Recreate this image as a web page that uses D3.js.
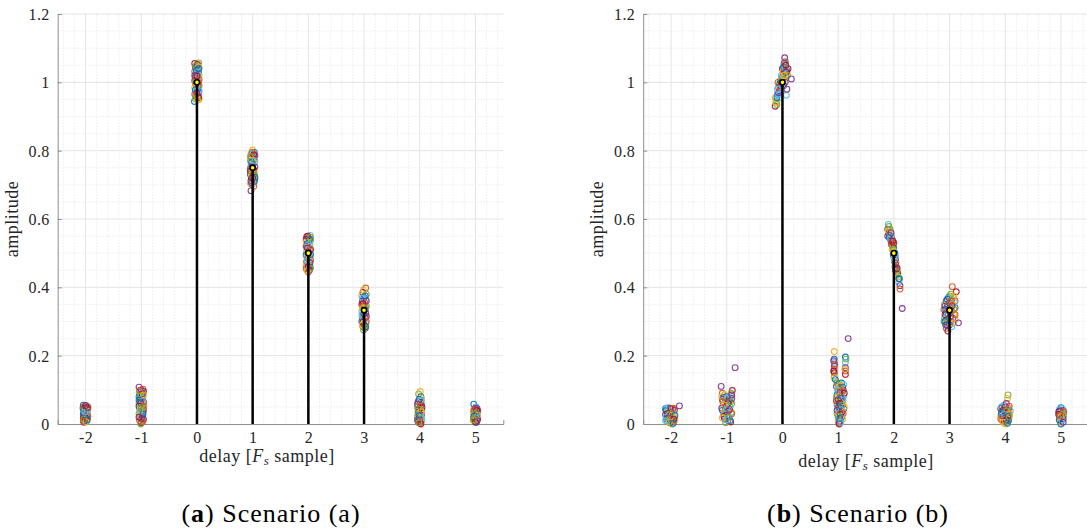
<!DOCTYPE html>
<html>
<head>
<meta charset="utf-8">
<script src="https://cdn.jsdelivr.net/npm/d3@7"></script>
<style>
  html, body { margin: 0; padding: 0; background: #fff; }
  svg { display: block; }
</style>
</head>
<body>
<svg id="chart" width="1087" height="531"></svg>
<script>
// ---------------- data ----------------
const delays = [-2, -1, 0, 1, 2, 3, 4, 5];
const xTickLabels = ["-2", "-1", "0", "1", "2", "3", "4", "5"];
const yTicks = [0, 0.2, 0.4, 0.6, 0.8, 1, 1.2];
const yTickLabels = ["0", "0.2", "0.4", "0.6", "0.8", "1", "1.2"];
const trueDelaysA = [0, 1, 2, 3];
const trueAmpsA = [1, 0.75, 0.5, 0.333];
const trueDelaysB = [0, 2, 3];
const trueAmpsB = [1, 0.5, 0.333];
const captions = [["a", "Scenario (a)"], ["b", "Scenario (b)"]];

// Scenario (a): estimated taps, [offset from delay, amplitude]
const estA_m2 = [[-0.04,0.055],[0.03,0.052],[-0.02,0.045],[0.04,0.042],[0.0,0.04],[-0.04,0.036],[0.02,0.034],[-0.01,0.03],[0.04,0.028],[-0.03,0.025],[0.01,0.022],[-0.04,0.018],[0.03,0.016],[0.0,0.012],[-0.02,0.01],[0.02,0.008],[-0.03,0.005],[0.01,0.038],[0.03,0.02],[-0.01,0.015],[0.045,0.05],[-0.045,0.046],[0.0,0.026],[0.02,0.044],
  [-0.03,0.05],[0.01,0.048],[-0.01,0.042],[0.03,0.038],[-0.04,0.028],[0.02,0.03],[-0.02,0.02],[0.04,0.022],[0.0,0.018],[-0.03,0.014],[0.01,0.006],[0.03,0.012],[-0.01,0.035],[0.04,0.048],[-0.04,0.008],[0.0,0.054]];
const estA_m1 = [[-0.04,0.108],[0.03,0.102],[0.04,0.095],[-0.03,0.09],[0.0,0.086],[-0.04,0.08],[0.03,0.078],[0.01,0.072],[-0.02,0.068],[0.04,0.064],[-0.04,0.06],[0.0,0.056],[0.02,0.05],[-0.03,0.046],[0.04,0.042],[-0.01,0.038],[0.03,0.034],[-0.04,0.03],[0.0,0.026],[0.02,0.022],[-0.02,0.018],[0.04,0.014],[-0.03,0.01],[0.0,0.004],[-0.01,0.0],[0.03,0.06],[-0.02,0.075],[0.01,0.092],
  [0.0,0.1],[-0.03,0.098],[0.02,0.088],[-0.01,0.082],[0.04,0.085],[-0.04,0.07],[0.02,0.066],[-0.01,0.062],[0.04,0.052],[-0.04,0.052],[0.01,0.044],[-0.02,0.04],[0.03,0.028],[-0.03,0.036],[0.01,0.016],[0.03,0.008],[-0.04,0.02],[0.0,0.048]];
const estA_0 = [[-0.04,1.055],[0.03,1.057],[0.0,1.05],[-0.03,1.045],[0.04,1.042],[0.01,1.038],[-0.04,1.032],[0.03,1.028],[-0.01,1.024],[0.04,1.02],[-0.03,1.015],[0.02,1.01],[-0.04,1.005],[0.03,1.0],[-0.02,0.995],[0.04,0.99],[-0.04,0.985],[0.01,0.98],[-0.02,0.975],[0.03,0.97],[-0.04,0.965],[0.02,0.96],[-0.01,0.955],[0.04,0.95],[-0.045,0.944],[0.0,1.03],[0.02,0.992],[-0.03,1.012],
  [0.01,1.052],[-0.02,1.048],[0.03,1.045],[-0.01,1.035],[0.02,1.03],[-0.04,1.02],[0.04,1.008],[0.0,1.018],[-0.03,1.0],[0.0,0.99],[-0.03,0.978],[0.04,0.975],[0.0,0.968],[-0.02,0.962],[0.03,0.955],[-0.03,0.952],[0.01,0.948],[0.03,1.04]];
const estA_1 = [[0.0,0.802],[0.03,0.795],[-0.03,0.79],[0.04,0.785],[-0.02,0.78],[0.02,0.775],[-0.04,0.77],[0.03,0.765],[0.0,0.76],[-0.03,0.756],[0.04,0.752],[-0.04,0.748],[0.02,0.744],[-0.02,0.74],[0.03,0.735],[-0.04,0.73],[0.01,0.726],[-0.02,0.72],[0.04,0.716],[-0.03,0.712],[0.02,0.708],[-0.04,0.704],[0.03,0.71],[-0.01,0.7],[-0.03,0.683],
  [-0.01,0.795],[0.02,0.788],[-0.04,0.782],[0.0,0.772],[-0.02,0.766],[0.04,0.77],[-0.01,0.752],[0.01,0.738],[-0.04,0.74],[0.03,0.728],[-0.02,0.73],[0.04,0.722],[0.0,0.715],[-0.02,0.706],[0.02,0.696],[0.0,0.72]];
const estA_2 = [[0.03,0.552],[-0.03,0.548],[0.0,0.545],[-0.04,0.54],[0.04,0.538],[0.01,0.533],[-0.02,0.528],[0.03,0.524],[-0.04,0.52],[0.0,0.515],[0.04,0.51],[-0.03,0.505],[0.02,0.5],[-0.04,0.495],[0.03,0.49],[-0.01,0.485],[0.04,0.48],[-0.03,0.475],[0.01,0.47],[-0.04,0.465],[0.03,0.46],[-0.02,0.455],[0.02,0.45],[0.0,0.445],
  [-0.01,0.55],[0.04,0.546],[-0.04,0.532],[0.02,0.54],[0.0,0.525],[-0.02,0.515],[0.03,0.512],[0.0,0.503],[-0.03,0.49],[0.01,0.492],[0.04,0.496],[-0.02,0.478],[0.03,0.472],[-0.04,0.455],[0.0,0.46],[0.04,0.456],[-0.02,0.448]];
const estA_3 = [[0.03,0.398],[-0.02,0.385],[0.04,0.38],[-0.04,0.375],[0.0,0.37],[0.03,0.365],[-0.03,0.36],[0.01,0.355],[-0.04,0.35],[0.04,0.345],[-0.01,0.34],[0.02,0.335],[-0.04,0.33],[0.03,0.325],[-0.02,0.32],[0.04,0.315],[-0.03,0.31],[0.01,0.305],[-0.04,0.3],[0.03,0.295],[0.0,0.29],[-0.02,0.285],[0.02,0.28],[-0.01,0.275],
  [-0.01,0.392],[0.02,0.375],[-0.03,0.368],[0.04,0.36],[0.0,0.348],[-0.02,0.352],[0.03,0.34],[-0.03,0.338],[0.0,0.322],[-0.04,0.318],[0.02,0.312],[0.04,0.3],[-0.02,0.298],[0.01,0.282],[-0.03,0.29],[0.03,0.285]];
const estA_4 = [[-0.02,0.088],[0.01,0.095],[0.02,0.08],[0.03,0.07],[-0.03,0.065],[0.0,0.06],[0.03,0.055],[-0.04,0.05],[0.01,0.046],[-0.02,0.042],[0.04,0.038],[-0.03,0.034],[0.0,0.03],[0.03,0.026],[-0.04,0.022],[0.02,0.018],[-0.01,0.014],[0.04,0.01],[-0.03,0.006],[0.0,0.002],[0.02,0.062],[-0.02,0.028],
  [0.03,0.075],[-0.01,0.072],[0.02,0.068],[-0.04,0.058],[0.01,0.052],[0.04,0.048],[-0.03,0.044],[0.02,0.036],[-0.01,0.024],[0.03,0.018],[-0.04,0.012],[0.01,0.008],[0.02,0.0],[-0.02,0.004]];
const estA_5 = [[-0.03,0.058],[0.01,0.05],[0.03,0.045],[-0.02,0.042],[0.04,0.038],[0.0,0.035],[-0.04,0.032],[0.03,0.028],[-0.01,0.025],[0.02,0.022],[-0.03,0.018],[0.04,0.015],[0.0,0.012],[-0.02,0.009],[0.02,0.005],[0.03,0.032],
  [0.0,0.046],[-0.03,0.04],[0.02,0.04],[-0.01,0.03],[0.04,0.025],[-0.03,0.022],[0.01,0.018],[0.03,0.01],[-0.02,0.015],[0.0,0.005],[-0.04,0.012]];

// Scenario (b)
const estB_m2 = [[-0.1,0.045],[-0.06,0.048],[-0.02,0.046],[0.03,0.044],[0.06,0.04],[-0.08,0.038],[-0.04,0.035],[0.0,0.033],[0.04,0.03],[-0.1,0.028],[-0.06,0.025],[-0.02,0.022],[0.02,0.02],[0.06,0.018],[-0.08,0.015],[-0.04,0.012],[0.0,0.01],[0.04,0.008],[-0.02,0.004],[0.02,0.0],[0.07,0.012],
  [-0.09,0.04],[-0.05,0.042],[0.0,0.044],[0.04,0.046],[-0.07,0.03],[-0.03,0.028],[0.02,0.026],[0.07,0.025],[-0.09,0.02],[-0.05,0.018],[0.0,0.015],[0.05,0.014],[-0.07,0.008],[-0.03,0.006],[0.04,0.002],[-0.1,0.01]];
const estB_m1 = [[-0.1,0.11],[-0.08,0.09],[0.1,0.098],[0.08,0.09],[-0.04,0.085],[0.0,0.08],[0.06,0.078],[-0.08,0.072],[-0.02,0.07],[0.04,0.066],[0.09,0.06],[-0.06,0.058],[0.0,0.055],[0.06,0.05],[-0.09,0.046],[-0.03,0.042],[0.03,0.038],[0.08,0.034],[-0.06,0.03],[0.0,0.025],[0.05,0.02],[-0.04,0.015],[0.02,0.01],[0.07,0.006],[-0.02,0.004],
  [-0.09,0.08],[-0.05,0.078],[0.02,0.075],[0.09,0.085],[-0.07,0.065],[0.02,0.06],[0.07,0.065],[-0.04,0.055],[-0.08,0.04],[0.0,0.045],[0.05,0.042],[0.09,0.03],[-0.05,0.022],[0.03,0.018],[-0.08,0.018],[0.06,0.01],[-0.01,0.012],[0.09,0.075]];
const estB_0 = [[-0.13,0.93],[-0.11,0.945],[-0.13,0.955],[-0.09,0.965],[-0.06,0.955],[-0.05,0.975],[-0.07,0.985],[-0.03,0.99],[-0.04,1.005],[-0.01,1.0],[0.0,1.015],[-0.02,1.02],[0.02,1.025],[0.03,1.035],[0.0,1.04],[0.04,1.045],[0.05,1.05],[0.03,1.055],[0.06,1.06],[0.04,1.072],[0.07,1.04],[0.08,1.03],[0.06,1.02],[0.04,1.005],[0.02,0.99],[0.07,0.962],[0.08,0.98],[-0.08,1.0],[0.1,1.04],[-0.1,0.935],
  [-0.12,0.94],[-0.1,0.955],[-0.08,0.965],[-0.07,0.97],[-0.04,0.985],[-0.02,1.0],[0.01,1.008],[0.01,1.03],[0.02,1.045],[0.05,1.04],[0.06,1.03],[0.04,1.06],[0.06,1.05],[0.09,1.02],[0.03,1.02],[-0.05,0.995],[-0.09,0.98],[0.05,1.0]];
const estB_1 = [[-0.07,0.212],[-0.07,0.19],[-0.07,0.18],[-0.07,0.17],[-0.07,0.16],[-0.07,0.15],[-0.07,0.14],[-0.07,0.135],[0.13,0.196],[0.13,0.18],[0.13,0.165],[0.13,0.155],[0.13,0.145],[-0.02,0.12],[0.02,0.118],[0.06,0.12],[0.1,0.115],[-0.03,0.11],[0.04,0.105],[0.09,0.1],[0.0,0.095],[0.06,0.09],[-0.02,0.085],[0.1,0.082],[0.03,0.078],[0.07,0.07],[-0.03,0.068],[0.01,0.062],[0.09,0.058],[0.05,0.052],[-0.01,0.048],[0.1,0.044],[0.03,0.04],[0.07,0.035],[-0.02,0.03],[0.02,0.024],[0.06,0.02],[0.0,0.014],[0.03,0.008],[0.01,0.003],[0.02,0.0],
  [0.0,0.115],[0.04,0.112],[0.08,0.108],[-0.01,0.1],[0.03,0.092],[0.07,0.095],[0.11,0.09],[-0.03,0.078],[0.01,0.08],[0.05,0.075],[0.09,0.07],[0.0,0.07],[-0.02,0.058],[0.03,0.06],[0.07,0.055],[0.11,0.05],[0.01,0.05],[0.06,0.042],[-0.02,0.04],[0.09,0.03],[0.04,0.028],[0.0,0.022],[0.08,0.015],[0.03,0.016],[0.05,0.005],
  [-0.08,0.185],[-0.06,0.175],[-0.08,0.155],[0.14,0.19],[0.12,0.16],[-0.05,0.13]];
const estB_2 = [[-0.1,0.584],[-0.11,0.57],[-0.09,0.56],[-0.11,0.55],[-0.07,0.57],[-0.06,0.555],[-0.08,0.545],[-0.04,0.55],[-0.05,0.535],[-0.03,0.54],[-0.04,0.525],[-0.02,0.52],[-0.03,0.51],[0.0,0.515],[0.01,0.5],[-0.01,0.495],[0.02,0.49],[0.03,0.48],[0.01,0.475],[0.04,0.47],[0.02,0.46],[0.05,0.455],[0.03,0.45],[0.06,0.445],[0.07,0.44],[0.05,0.435],[0.08,0.43],[0.1,0.425],[0.09,0.415],[0.11,0.405],[0.11,0.395],[0.0,0.53],
  [-0.09,0.578],[-0.1,0.565],[-0.08,0.552],[-0.06,0.545],[-0.05,0.56],[-0.03,0.53],[-0.02,0.535],[-0.01,0.51],[0.0,0.505],[0.02,0.5],[0.0,0.485],[0.03,0.47],[0.04,0.46],[0.06,0.455],[0.05,0.445],[0.07,0.43],[0.09,0.425],[0.03,0.49]];
const estB_3 = [[0.05,0.402],[0.12,0.387],[0.02,0.38],[0.08,0.375],[-0.02,0.37],[0.04,0.365],[-0.06,0.36],[0.1,0.36],[0.0,0.355],[-0.09,0.35],[0.06,0.35],[-0.04,0.345],[0.02,0.34],[0.1,0.34],[-0.1,0.335],[-0.06,0.325],[0.04,0.33],[0.08,0.322],[-0.02,0.32],[-0.09,0.31],[0.06,0.31],[-0.05,0.305],[0.02,0.3],[-0.1,0.3],[0.1,0.305],[-0.07,0.29],[-0.03,0.285],[0.0,0.29],[-0.06,0.28],[-0.03,0.272],
  [0.0,0.375],[0.06,0.37],[-0.04,0.365],[0.09,0.355],[-0.08,0.345],[-0.02,0.35],[0.04,0.345],[0.08,0.335],[0.0,0.33],[-0.07,0.335],[-0.04,0.32],[0.02,0.315],[0.1,0.32],[-0.08,0.32],[-0.03,0.3],[0.06,0.295],[-0.08,0.3],[0.04,0.285],[-0.05,0.29],[0.03,0.36]];
const estB_4 = [[0.05,0.085],[0.04,0.075],[-0.06,0.05],[-0.02,0.055],[0.02,0.06],[0.07,0.052],[-0.08,0.045],[-0.03,0.042],[0.01,0.045],[0.05,0.04],[0.09,0.038],[-0.06,0.035],[-0.01,0.032],[0.03,0.03],[0.07,0.028],[-0.08,0.025],[-0.04,0.022],[0.0,0.02],[0.04,0.015],[-0.06,0.012],[-0.02,0.008],[0.02,0.005],[0.0,0.0],[0.06,0.01],
  [-0.07,0.048],[0.0,0.05],[0.06,0.045],[-0.04,0.04],[0.03,0.038],[0.08,0.03],[-0.07,0.03],[-0.02,0.028],[0.05,0.022],[-0.08,0.015],[0.02,0.012],[0.07,0.02],[-0.04,0.005],[0.04,0.002]];
const estB_5 = [[0.0,0.048],[-0.03,0.042],[0.04,0.04],[0.01,0.038],[-0.04,0.035],[0.03,0.032],[0.0,0.03],[-0.03,0.027],[0.05,0.025],[0.02,0.022],[-0.02,0.018],[0.04,0.015],[0.0,0.01],[-0.01,0.005],[0.0,0.0],
  [0.02,0.045],[-0.02,0.038],[0.05,0.035],[-0.04,0.028],[0.03,0.028],[0.0,0.022],[-0.03,0.012],[0.02,0.012],[0.04,0.005],[-0.02,0.025]];
// isolated outlying estimates in scenario (b): [delay, amplitude]
const outliersB = [[-1.85,0.053],[-0.85,0.165],[0.16,1.01],[1.18,0.25],[2.15,0.338],[3.16,0.296]];

const clustersA = [estA_m2, estA_m1, estA_0, estA_1, estA_2, estA_3, estA_4, estA_5];
const clustersB = [estB_m2, estB_m1, estB_0, estB_1, estB_2, estB_3, estB_4, estB_5];

// ---------------- drawing ----------------
const FONT = "'Liberation Serif', 'Times New Roman', 'DejaVu Serif', serif";
const palette = ["#0072BD", "#D95319", "#EDB120", "#7E2F8E", "#77AC30", "#4DBEEE", "#A2142F"];
const svg = d3.select("#chart");

function drawPanel(cfg) {
  const x = d3.scaleLinear().domain([-2.5, 5.5]).range([cfg.left, cfg.left + 445.6]);
  const y = d3.scaleLinear().domain([0, 1.2]).range([424, 14]);
  const g = svg.append("g");
  const x0 = x.range()[0], x1 = x.range()[1];

  // minor grid
  const xMinor = d3.range(-24, 56, 2).map(v => v / 10).filter(v => Math.abs(v - Math.round(v)) > 1e-6);
  const yMinor = d3.range(1, 24).map(v => v * 0.05).filter(v => Math.abs(v / 0.2 - Math.round(v / 0.2)) > 1e-6);
  g.selectAll(".xmin").data(xMinor).join("line")
    .attr("x1", d => x(d)).attr("x2", d => x(d)).attr("y1", y(0)).attr("y2", y(1.2))
    .attr("stroke", "#e9e9e9").attr("stroke-width", 0.8).attr("stroke-dasharray", "1.5,1.5");
  g.selectAll(".ymin").data(yMinor).join("line")
    .attr("x1", x0).attr("x2", x1).attr("y1", d => y(d)).attr("y2", d => y(d))
    .attr("stroke", "#e9e9e9").attr("stroke-width", 0.8).attr("stroke-dasharray", "1.5,1.5");
  // major grid
  g.selectAll(".xmaj").data(delays).join("line")
    .attr("x1", d => x(d)).attr("x2", d => x(d)).attr("y1", y(0)).attr("y2", y(1.2))
    .attr("stroke", "#e4e4e4").attr("stroke-width", 1);
  g.selectAll(".ymaj").data(yTicks.slice(1)).join("line")
    .attr("x1", x0).attr("x2", x1).attr("y1", d => y(d)).attr("y2", d => y(d))
    .attr("stroke", "#e4e4e4").attr("stroke-width", 1);

  // axes
  const xAxis = d3.axisBottom(x).tickValues(delays).tickSize(-4)
    .tickFormat((d, i) => xTickLabels[i]);
  const yAxis = d3.axisLeft(y).tickValues(yTicks).tickSize(-4)
    .tickFormat((d, i) => yTickLabels[i]);
  const gx = g.append("g").attr("transform", `translate(0,${y(0)})`).call(xAxis);
  const gy = g.append("g").attr("transform", `translate(${x0},0)`).call(yAxis);
  [gx, gy].forEach(a => {
    a.attr("font-family", null).attr("font-size", null);
    a.select(".domain").attr("stroke", "#8f8f8f").attr("stroke-width", 1);
    a.selectAll(".tick line").attr("stroke", "#8f8f8f");
    a.selectAll(".tick text").style("font-family", FONT).style("font-size", "16px")
      .style("letter-spacing", "0.4px").attr("fill", "#262626");
  });
  gx.selectAll(".tick text").attr("dy", 0).attr("y", 19);
  gy.selectAll(".tick text").attr("x", -8).attr("dy", "0.35em");

  // estimates
  const pts = [];
  cfg.clusters.forEach((c, ci) => c.forEach((p, pi) => pts.push({ x: delays[ci] + p[0], y: p[1], k: ci * 3 + pi * 5 })));
  (cfg.outliers || []).forEach(p => pts.push({ x: p[0], y: p[1], k: 3 }));
  g.selectAll(".est").data(pts).join("circle")
    .attr("cx", d => x(d.x)).attr("cy", d => y(d.y)).attr("r", 2.9)
    .attr("fill", "none").attr("stroke", d => palette[d.k % 7])
    .attr("stroke-width", 1.1).attr("stroke-opacity", 0.9);

  // true channel stems
  g.selectAll(".stem").data(cfg.trueDelays).join("line")
    .attr("x1", d => x(d)).attr("x2", d => x(d))
    .attr("y1", y(0)).attr("y2", (d, i) => y(cfg.trueAmps[i]))
    .attr("stroke", "#000").attr("stroke-width", 2.5);
  g.selectAll(".mark").data(cfg.trueDelays).join("circle")
    .attr("cx", d => x(d)).attr("cy", (d, i) => y(cfg.trueAmps[i])).attr("r", 2.6)
    .attr("fill", "#ffff00").attr("stroke", "#000").attr("stroke-width", 1.6);

  // axis labels
  const xl = g.append("text").attr("x", cfg.xLabelX).attr("y", cfg.xLabelY)
    .attr("text-anchor", "middle").style("font-family", FONT).style("font-size", "18px")
    .style("letter-spacing", "0.5px").attr("fill", "#262626");
  xl.append("tspan").text("delay [");
  xl.append("tspan").attr("font-style", "italic").text("F");
  xl.append("tspan").attr("font-style", "italic").style("font-size", "13px").attr("dy", 3).text("s");
  xl.append("tspan").attr("dy", -3).text(" sample]");
  g.append("text").attr("transform", `translate(${x0 - 40},${y(0.6)}) rotate(-90)`)
    .attr("text-anchor", "middle").style("font-family", FONT).style("font-size", "18px")
    .style("letter-spacing", "0.5px").attr("fill", "#262626").text("amplitude");

  // caption
  const cap = g.append("text").attr("x", cfg.capX).attr("y", 522)
    .attr("text-anchor", "middle").style("font-family", FONT).style("font-size", "26px")
    .style("letter-spacing", "1px").attr("fill", "#000");
  cap.append("tspan").text("(");
  cap.append("tspan").attr("font-weight", "bold").text(cfg.caption[0]);
  cap.append("tspan").text(") " + cfg.caption[1]);
}

drawPanel({ left: 57.7, clusters: clustersA, trueDelays: trueDelaysA, trueAmps: trueAmpsA,
  xLabelX: 267, xLabelY: 462, capX: 271, caption: captions[0] });
drawPanel({ left: 643.2, clusters: clustersB, outliers: outliersB, trueDelays: trueDelaysB, trueAmps: trueAmpsB,
  xLabelX: 866, xLabelY: 467, capX: 858, caption: captions[1] });
</script>
</body>
</html>
